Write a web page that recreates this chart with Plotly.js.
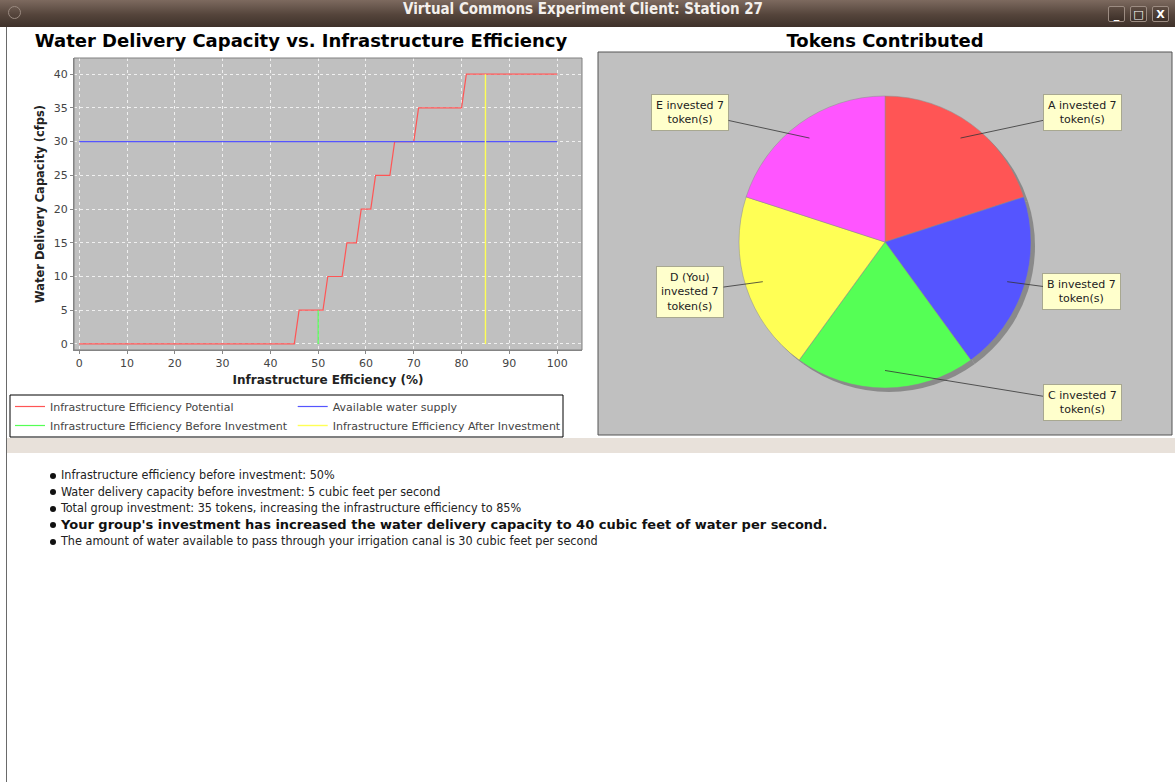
<!DOCTYPE html>
<html><head><meta charset="utf-8">
<script src="https://cdn.plot.ly/plotly-3.0.1.min.js"></script>
<style>
html,body{margin:0;padding:0}
body{width:1175px;height:782px;overflow:hidden;background:#fff;position:relative;font-family:"DejaVu Sans",sans-serif}
#titlebar{position:absolute;left:0;top:0;width:1175px;height:27px;background:linear-gradient(#7d6a5f,#54443b 55%,#3e312a);}
#titletext{position:absolute;left:0;top:0;width:1166px;height:27px;line-height:26px;text-align:center;color:#f4f0ec;font:bold 15px "DejaVu Sans Condensed","DejaVu Sans",sans-serif}
#icon{position:absolute;left:8px;top:6px;width:11px;height:11px;border-radius:50%;border:1px solid #9a8a80;}
.btn{position:absolute;top:6px;width:17px;height:16px;border:1px solid #9c8c82;border-radius:2px;background:linear-gradient(#5e4d43,#3c2f28);color:#fff;font:bold 11px "DejaVu Sans",sans-serif;text-align:center;line-height:15px;box-sizing:border-box}
#frameL{position:absolute;left:6px;top:27px;width:1px;height:755px;background:#6a6a6a}
#band{position:absolute;left:7px;top:438px;width:1168px;height:15px;background:#e8e1da}
#left{position:absolute;left:0;top:28px;width:590px;height:445px}
#right{position:absolute;left:590px;top:28px;width:585px;height:412px}
#info{position:absolute;left:48px;top:467px;font:12.5px "DejaVu Sans Condensed","DejaVu Sans",sans-serif;color:#222}
#info div{height:16.6px;line-height:16.6px;position:relative;padding-left:13px;white-space:nowrap}
#info div::before{content:"";position:absolute;left:2px;top:5.5px;width:6px;height:6px;border-radius:50%;background:#111}
#info div.b{font:bold 13px "DejaVu Sans",sans-serif;color:#111}
</style></head>
<body>
<div id="titlebar"><div id="icon"></div><div id="titletext">Virtual Commons Experiment Client: Station 27</div>
<div class="btn" style="left:1108px">_</div><div class="btn" style="left:1130px">&#9633;</div><div class="btn" style="left:1152px">X</div></div>
<div id="frameL"></div>
<div id="left"></div>
<div id="right"></div>
<div id="band"></div>
<div id="info"></div>
<script>
// ---------- data: left chart ----------
const effX   = [0,45,46,51,52,55,56,58,59,61,62,65,66,70,71,80,81,100];
const capY   = [0,0,5,5,10,10,15,15,20,20,25,25,30,30,35,35,40,40];
const supplyX = [0,100];
const supplyY = [30,30];
const beforeX = [50,50];
const beforeY = [0,5];
const afterX  = [85,85];
const afterY  = [0,40];
const seriesNames = ['Infrastructure Efficiency Potential','Available water supply','Infrastructure Efficiency Before Investment','Infrastructure Efficiency After Investment'];
const xTicks = [0,10,20,30,40,50,60,70,80,90,100];
const yTicks = [0,5,10,15,20,25,30,35,40];

// ---------- data: pie ----------
const players = ['A','B','C','D (You)','E'];
const tokens  = [7,7,7,7,7];
const pieLabels = ['A invested 7<br>token(s)','B invested 7<br>token(s)','C invested 7<br>token(s)','D (You)<br>invested 7<br>token(s)','E invested 7<br>token(s)'];

// ---------- data: info text ----------
const infoLines = [
 ['Infrastructure efficiency before investment: 50%', false],
 ['Water delivery capacity before investment: 5 cubic feet per second', false],
 ['Total group investment: 35 tokens, increasing the infrastructure efficiency to 85%', false],
 ["Your group's investment has increased the water delivery capacity to 40 cubic feet of water per second.", true],
 ['The amount of water available to pass through your irrigation canal is 30 cubic feet per second', false]
];

const C_RED='#ff5555', C_BLUE='#5555ff', C_GREEN='#55ff55', C_YELLOW='#ffff55', C_MAG='#ff55ff';
const FONT='DejaVu Sans';

// ---------- left chart ----------
const W1=590, H1=445, mL={l:74,r:8,t:30,b:123};
const tracesL = [
  {x:effX, y:capY, name:seriesNames[0], mode:'lines', line:{color:C_RED,width:1.2}},
  {x:supplyX, y:supplyY, name:seriesNames[1], mode:'lines', line:{color:C_BLUE,width:1.2}},
  {x:beforeX, y:beforeY, name:seriesNames[2], mode:'lines', line:{color:C_GREEN,width:1.2}},
  {x:afterX, y:afterY, name:seriesNames[3], mode:'lines', line:{color:C_YELLOW,width:1.4}}
];
const pw = W1-mL.l-mL.r, ph = H1-mL.t-mL.b;
const px = v => (v-mL.l)/pw;          // div x px -> paper
const py = v => (H1-mL.b-v)/ph;       // div y px -> paper
const layoutL = {
  width:W1, height:H1, margin:mL,
  paper_bgcolor:'rgba(0,0,0,0)', plot_bgcolor:'#c0c0c0',
  showlegend:true, hovermode:false,
  title:{text:'Water Delivery Capacity vs. Infrastructure Efficiency', font:{family:FONT,size:18,color:'#000',weight:'bold'},
         xref:'container', x:301/W1, xanchor:'center', yref:'container', y:1-13/H1, yanchor:'middle'},
  xaxis:{range:[-1.1,105.2], tickvals:xTicks, ticks:'outside', ticklen:3, tickcolor:'#888', showline:true, linecolor:'#888',
         tickfont:{family:FONT,size:11,color:'#444'}, showgrid:true, gridcolor:'#f0f0f0', griddash:'dot', gridwidth:1, zeroline:false,
         title:{text:'Infrastructure Efficiency (%)', font:{family:FONT,size:12,color:'#222',weight:'bold'}, standoff:6}},
  yaxis:{range:[-0.9,42.4], tickvals:yTicks, ticks:'outside', ticklen:3, tickcolor:'#888', showline:true, linecolor:'#888',
         tickfont:{family:FONT,size:11,color:'#444'}, showgrid:true, gridcolor:'#f0f0f0', griddash:'dot', gridwidth:1, zeroline:false,
         title:{text:'Water Delivery Capacity (cfps)', font:{family:FONT,size:11.5,color:'#222',weight:'bold'}, standoff:6}},
  legend:{orientation:'h', x:px(10), xanchor:'left', y:py(364), yanchor:'top', bgcolor:'rgba(0,0,0,0)', borderwidth:0,
          font:{family:FONT,size:11,color:'#444'}, traceorder:'normal', itemwidth:30},
  shapes:[
    {type:'rect', xref:'paper', yref:'paper', x0:0, x1:1, y0:0, y1:1, line:{color:'#808080',width:1}, fillcolor:'rgba(0,0,0,0)'},
    {type:'rect', xref:'paper', yref:'paper', x0:px(10), x1:px(563), y0:py(367), y1:py(409), line:{color:'#000',width:1}, fillcolor:'#fff', layer:'below'}
  ]
};
Plotly.newPlot('left', tracesL, layoutL, {staticPlot:true, displayModeBar:false});

// ---------- pie chart ----------
const W2=585, H2=412;
const pcx=295, pcy=214, pr=146, shadowOff=4;
const domX=[(pcx-pr)/W2,(pcx+pr)/W2], domY=[1-(pcy+pr)/H2, 1-(pcy-pr)/H2];
const shadowTrace = {type:'pie', values:tokens, labels:players, sort:false, direction:'clockwise', rotation:0,
  marker:{colors:tokens.map(()=> '#8a8a8a'), line:{width:0}}, textinfo:'none', hoverinfo:'skip', showlegend:false,
  domain:{x:[domX[0]+shadowOff/W2, domX[1]+shadowOff/W2], y:[domY[0]-shadowOff/H2, domY[1]-shadowOff/H2]}};
const pieTrace = {type:'pie', values:tokens, labels:players, sort:false, direction:'clockwise', rotation:0,
  marker:{colors:[C_RED,C_BLUE,C_GREEN,C_YELLOW,C_MAG], line:{color:'#8c8c8c',width:0.5}}, textinfo:'none', hoverinfo:'skip', showlegend:false,
  domain:{x:domX, y:domY}};
const total = tokens.reduce((a,b)=>a+b,0);
let cum = 0;
const annotations = tokens.map((v,i)=>{
  const th = (cum + v/2)/total*2*Math.PI; cum += v;
  const s = Math.sin(th), c = Math.cos(th);
  const tx = pcx + 0.88*pr*s, ty = pcy - 0.88*pr*c;
  const lx = pcx + (s > -1e-9 ? 197 : -195), ly = pcy - 1.1*pr*c;
  return {x:tx/W2, y:1-ty/H2, xref:'paper', yref:'paper', ax:lx-tx, ay:ly-ty, text:pieLabels[i], showarrow:true,
          arrowhead:0, arrowwidth:0.8, arrowcolor:'#333', standoff:0, startstandoff:0, align:'center',
          bgcolor:'#ffffcc', bordercolor:'#a8a890', borderwidth:1, borderpad:4,
          font:{family:FONT,size:11,color:'#222'}};
});
const layoutR = {
  width:W2, height:H2, margin:{l:0,r:0,t:0,b:0}, paper_bgcolor:'rgba(0,0,0,0)', showlegend:false,
  title:{text:'Tokens Contributed', font:{family:FONT,size:18,color:'#000',weight:'bold'},
         xref:'container', x:pcx/W2, xanchor:'center', yref:'container', y:1-13/H2, yanchor:'middle'},
  shapes:[{type:'rect', xref:'paper', yref:'paper', x0:8/W2, x1:582/W2, y0:1-407/H2, y1:1-24/H2, line:{color:'#555',width:1}, fillcolor:'#c0c0c0', layer:'below'}],
  annotations:annotations
};
Plotly.newPlot('right', [shadowTrace, pieTrace], layoutR, {staticPlot:true, displayModeBar:false});

// ---------- info text ----------
const info = document.getElementById('info');
infoLines.forEach(([t,b])=>{const d=document.createElement('div'); d.textContent=t; if(b) d.className='b'; info.appendChild(d);});
</script>
</body></html>
